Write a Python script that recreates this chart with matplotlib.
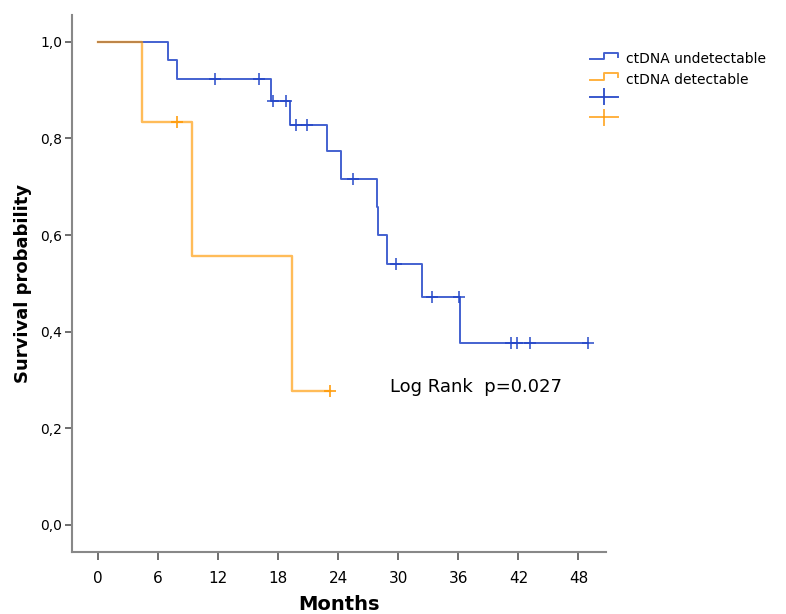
import matplotlib
matplotlib.use("Agg")
import matplotlib.pyplot as plt
from matplotlib.lines import Line2D
from matplotlib.legend_handler import HandlerBase

# Kaplan-Meier steps (months, survival)
undet_times = [0, 7.0, 7.9, 17.3, 19.2, 22.9, 24.3, 27.9, 28.0, 28.9, 32.4, 36.2, 49.0]
undet_surv = [1.0, 0.962, 0.923, 0.877, 0.828, 0.773, 0.717, 0.659, 0.600, 0.540, 0.471, 0.377, 0.377]
undet_cens_t = [11.7, 16.1, 17.5, 18.8, 19.8, 20.9, 25.5, 29.8, 33.4, 36.1, 41.3, 41.9, 43.2, 49.0]
undet_cens_s = [0.923, 0.923, 0.877, 0.877, 0.828, 0.828, 0.717, 0.540, 0.471, 0.471, 0.377, 0.377, 0.377, 0.377]

det_times = [0, 4.4, 9.4, 19.4, 23.2]
det_surv = [1.0, 0.833, 0.556, 0.278, 0.278]
det_cens_t = [7.9, 23.2]
det_cens_s = [0.833, 0.278]

x_ticks = [0, 6, 12, 18, 24, 30, 36, 42, 48]
y_ticks = [0.0, 0.2, 0.4, 0.6, 0.8, 1.0]
y_tick_labels = ["0,0", "0,2", "0,4", "0,6", "0,8", "1,0"]

BLUE = "#2346c8"
ORANGE = "#ff9800"
COND = ["Liberation Sans Narrow", "DejaVu Sans"]


class StepHandler(HandlerBase):
    # legend icon shaped like a KM step
    def create_artists(self, legend, orig, xd, yd, width, height, fontsize, trans):
        w = width
        lo = yd + height * 0.2
        hi = yd + height * 0.75
        xs = [xd, xd + w * 0.5, xd + w * 0.5, xd + w, xd + w]
        ys = [lo, lo, hi, hi, yd + height * 0.4]
        ln = Line2D(xs, ys, color=orig.get_color(), alpha=orig.get_alpha(),
                    lw=1.4, transform=trans)
        return [ln]


class CensorHandler(HandlerBase):
    # wide horizontal line with a short vertical tick in the middle
    def create_artists(self, legend, orig, xd, yd, width, height, fontsize, trans):
        mid = yd + height * 0.45
        kw = dict(color=orig.get_color(), alpha=orig.get_alpha(), lw=1.4, transform=trans)
        horiz = Line2D([xd, xd + width], [mid, mid], **kw)
        vert = Line2D([xd + width / 2] * 2, [yd - height * 0.15, yd + height * 1.05], **kw)
        return [horiz, vert]


fig = plt.figure(figsize=(7.86, 6.14), dpi=100)
ax = fig.add_axes([0.0916, 0.101, 0.68, 0.875])

ax.step(undet_times, undet_surv, where="post", color=BLUE, alpha=0.85, lw=1.4)
ax.step(det_times, det_surv, where="post", color=ORANGE, alpha=0.65, lw=1.7)
ax.plot(undet_cens_t, undet_cens_s, ls="none", marker="+", ms=8, mew=1.2,
        color=BLUE, alpha=0.9)
ax.plot(det_cens_t, det_cens_s, ls="none", marker="+", ms=8, mew=1.4,
        color=ORANGE, alpha=0.8)

ax.set_xlim(-2.6, 50.8)
ax.set_ylim(-0.056, 1.056)
ax.set_xticks(x_ticks)
ax.set_xticklabels([str(t) for t in x_ticks], family=COND, fontsize=11)
ax.set_yticks(y_ticks)
ax.set_yticklabels(y_tick_labels, family=COND, fontsize=10)
ax.tick_params(axis="x", direction="out", length=6, width=1.2, color="#555555", pad=8)
ax.tick_params(axis="y", direction="out", length=5, width=1.2, color="#555555", pad=2)

for s in ["top", "right"]:
    ax.spines[s].set_visible(False)
for s in ["left", "bottom"]:
    ax.spines[s].set_color("#888888")
    ax.spines[s].set_linewidth(1.5)

ax.set_xlabel("Months", fontsize=14, fontweight="bold", family=COND, labelpad=6)
ax.set_ylabel("Survival probability", fontsize=13, fontweight="bold", labelpad=6)

ax.text(29.2, 0.286, "Log Rank  p=0.027", fontsize=13, va="center", ha="left")

h1 = Line2D([], [], color=BLUE, alpha=0.85)
h2 = Line2D([], [], color=ORANGE, alpha=0.75)
h3 = Line2D([], [], color=BLUE, alpha=0.9)
h4 = Line2D([], [], color=ORANGE, alpha=0.75)
fig.legend([h1, h2, h3, h4], ["ctDNA undetectable", "ctDNA detectable", "", ""],
           handler_map={h1: StepHandler(), h2: StepHandler(),
                        h3: CensorHandler(), h4: CensorHandler()},
           loc="upper left", bbox_to_anchor=(0.735, 0.935), frameon=False,
           fontsize=10, handlelength=2.0, handleheight=1.0,
           handletextpad=0.6, labelspacing=0.45)

fig.savefig("out.png", dpi=100)
